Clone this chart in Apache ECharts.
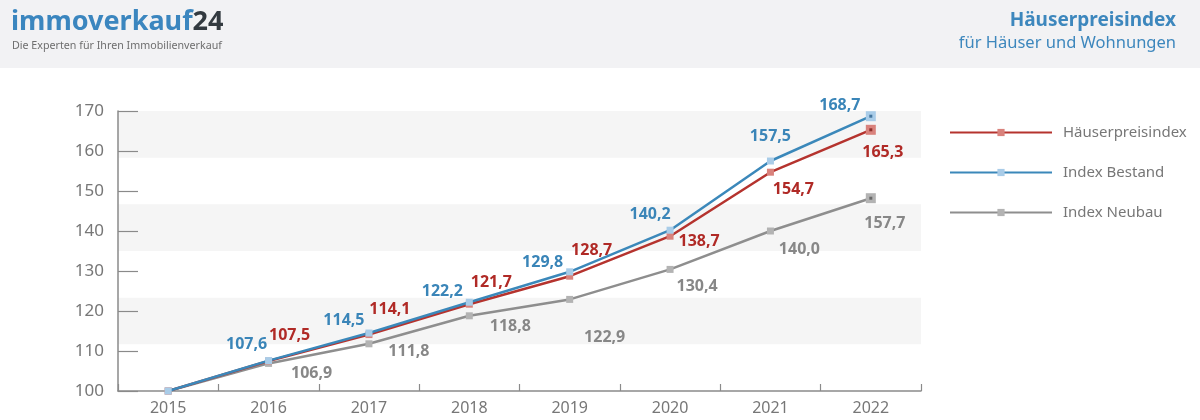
<!DOCTYPE html>
<html>
<head>
<meta charset="utf-8">
<script src="https://cdn.jsdelivr.net/npm/echarts@6/dist/echarts.min.js"></script>
<style>html,body{margin:0;padding:0;background:#fff}#c{width:1200px;height:420px}</style>
</head>
<body>
<div id="c"></div>
<script>
const categories = ['2015','2016','2017','2018','2019','2020','2021','2022'];
const yTicks = [100,110,120,130,140,150,160,170];
const hpiValues     = [100, 107.5, 114.1, 121.7, 128.7, 138.7, 154.7, 165.3];
const bestandValues = [100, 107.6, 114.5, 122.2, 129.8, 140.2, 157.5, 168.7];
const neubauValues  = [100, 106.9, 111.8, 118.8, 122.9, 130.4, 140.0, 148.2];
const hpiLabels     = ['', '107,5', '114,1', '121,7', '128,7', '138,7', '154,7', '165,3'];
const bestandLabels = ['', '107,6', '114,5', '122,2', '129,8', '140,2', '157,5', '168,7'];
const neubauLabels  = ['', '106,9', '111,8', '118,8', '122,9', '130,4', '140,0', '157,7'];
const seriesNames = ['Häuserpreisindex', 'Index Bestand', 'Index Neubau'];

// label offsets (style only)
const hpiOff     = [[0,0],[21,-26],[21,-25],[22,-22],[22,-26],[29,5],[23,17],[12,23]];
const bestandOff = [[0,0],[-22,-16],[-25,-13],[-27,-11],[-27,-9],[-20,-16],[0,-25],[-31,-11]];
const neubauOff  = [[0,0],[43,10],[40,8],[41,11],[35,38],[27,17],[29,18],[14,25]];

const FONT = '"Noto Sans", sans-serif';

function mkData(vals, labels, offs) {
  return vals.map((v, i) => ({
    value: v,
    symbolSize: i === vals.length - 1 ? 10 : 7,
    label: { show: labels[i] !== '', offset: offs[i], formatter: () => labels[i] }
  }));
}
function lastOnly(vals) {
  return vals.map((v, i) => i === vals.length - 1 ? v : '-');
}

function lineSeries(name, vals, labels, offs, lineColor, markColor, labelColor, z) {
  return {
    name, type: 'line', data: mkData(vals, labels, offs), z,
    symbol: 'rect', showAllSymbol: true,
    lineStyle: { color: lineColor, width: 2.5 },
    itemStyle: { color: markColor },
    color: lineColor,
    label: { position: 'inside', color: labelColor, fontFamily: FONT, fontWeight: 'bold', fontSize: 16 },
    emphasis: { disabled: true },
    animation: false
  };
}

const chart = echarts.init(document.getElementById('c'));
chart.setOption({
  animation: false,
  backgroundColor: '#fff',
  graphic: [
    { type: 'rect', shape: { x: 0, y: 0, width: 1200, height: 68 }, style: { fill: '#f2f2f4' }, z: -10 },
    { type: 'text', left: 11, top: 9, style: { text: '{a|immoverkauf}{b|24}', rich: {
        a: { fontFamily: FONT, fontWeight: 'bold', fontSize: 27, fill: '#3b86bf' },
        b: { fontFamily: FONT, fontWeight: 'bold', fontSize: 27, fill: '#333a40' } } } },
    { type: 'text', left: 12, top: 40, style: { text: 'Die Experten für Ihren Immobilienverkauf', fontFamily: FONT, fontSize: 10.7, fill: '#6e6e6e' } },
    { type: 'text', right: 24, top: 11, style: { text: 'Häuserpreisindex', fontFamily: FONT, fontWeight: 'bold', fontSize: 19, fill: '#3d87bd', align: 'right' } },
    { type: 'text', right: 24, top: 35, style: { text: 'für Häuser und Wohnungen', fontFamily: FONT, fontSize: 16.5, fill: '#3d87bd', align: 'right' } }
  ],
  grid: { left: 118, right: 279, top: 111, bottom: 29, containLabel: false },
  legend: {
    left: 944, top: 120, orient: 'vertical',
    data: seriesNames,
    itemWidth: 102, itemHeight: 9, itemGap: 25,
    textStyle: { color: '#777', fontFamily: FONT, fontSize: 15, padding: [0,0,4,6] }
  },
  xAxis: {
    type: 'category', data: categories, boundaryGap: true,
    axisLine: { lineStyle: { color: '#8a8a8a', width: 1.5 } },
    axisTick: { show: true, inside: true, length: 7, lineStyle: { color: '#8a8a8a', width: 1.2 } },
    axisLabel: { color: '#777', fontFamily: FONT, fontSize: 16, margin: 9 },
    splitLine: { show: false }
  },
  yAxis: [
    {
      type: 'value', min: 100, max: 170, interval: 10,
      axisLine: { show: true, lineStyle: { color: '#8a8a8a', width: 1.5 } },
      axisTick: { show: true, inside: true, length: 20, lineStyle: { color: '#8a8a8a', width: 1.2 } },
      axisLabel: { color: '#777', fontFamily: FONT, fontSize: 17, margin: 14, formatter: v => yTicks.includes(v) ? String(v) : '' },
      splitLine: { show: false }
    },
    {
      type: 'value', min: 0, max: 6, interval: 1, position: 'left',
      axisLine: { show: false }, axisTick: { show: false }, axisLabel: { show: false },
      splitLine: { show: false },
      splitArea: { show: true, areaStyle: { color: ['rgba(255,255,255,0)', '#f5f5f5'] } }
    }
  ],
  series: [
    lineSeries(seriesNames[2], neubauValues, neubauLabels, neubauOff, '#8e8e8e', '#b3b3b3', '#878787', 2),
    lineSeries(seriesNames[0], hpiValues, hpiLabels, hpiOff, '#b5332e', '#d9827c', '#b02a26', 3),
    lineSeries(seriesNames[1], bestandValues, bestandLabels, bestandOff, '#3b88ba', '#a9cce8', '#3a85b8', 4),
    { type: 'scatter', data: lastOnly(neubauValues), symbol: 'rect', symbolSize: 3, itemStyle: { color: '#555' }, z: 5, silent: true, emphasis: { disabled: true } },
    { type: 'scatter', data: lastOnly(hpiValues), symbol: 'rect', symbolSize: 3, itemStyle: { color: '#7a1a16' }, z: 5, silent: true, emphasis: { disabled: true } },
    { type: 'scatter', data: lastOnly(bestandValues), symbol: 'rect', symbolSize: 3, itemStyle: { color: '#2a5f8a' }, z: 5, silent: true, emphasis: { disabled: true } }
  ]
});
</script>
</body>
</html>
